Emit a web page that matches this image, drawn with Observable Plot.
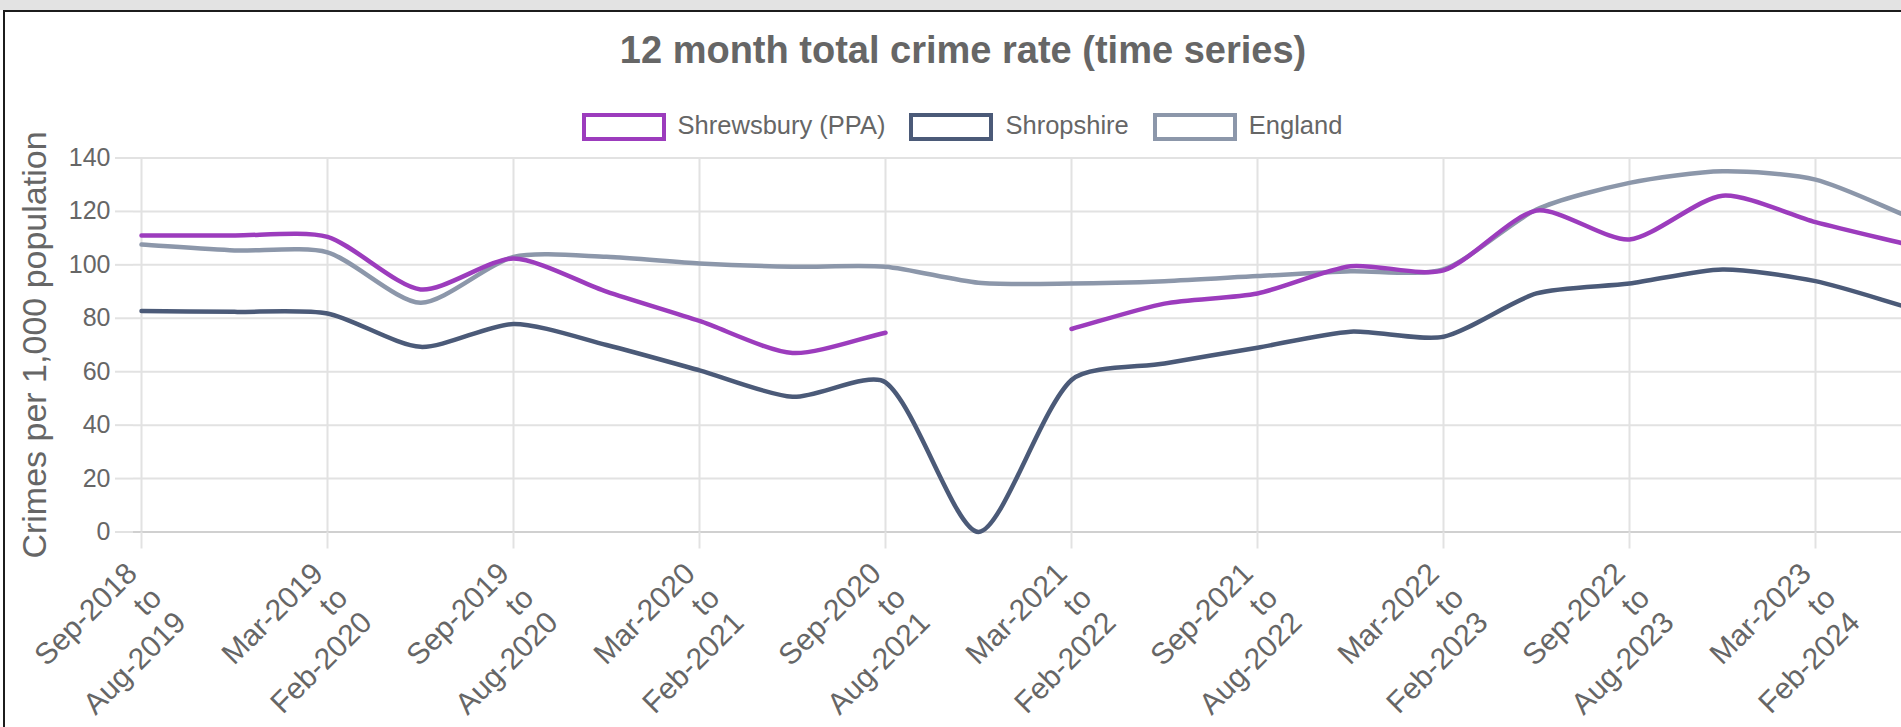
<!DOCTYPE html>
<html>
<head>
<meta charset="utf-8">
<script src="https://cdn.jsdelivr.net/npm/d3@7"></script>
<script src="https://cdn.jsdelivr.net/npm/@observablehq/plot@0.6"></script>
<style>
html,body{margin:0;padding:0;width:1901px;height:727px;overflow:hidden;background:#fff;font-family:"Liberation Sans",Arial,sans-serif;}
#strip{position:absolute;left:0;top:0;width:1901px;height:10px;background:#e3e3e3;}
#frame{position:absolute;left:3px;top:10px;width:1940px;height:760px;border-left:2px solid #1c1c1c;border-top:2px solid #1c1c1c;}
#title{position:absolute;left:0;top:31px;width:1926px;text-align:center;font-weight:bold;font-size:38px;line-height:38px;color:#666;white-space:nowrap;}
#legend{position:absolute;left:0;top:113px;width:1924px;height:28px;display:flex;justify-content:center;align-items:center;}
.item{display:flex;align-items:center;margin:0 12px;}
.box{width:84px;height:28px;box-sizing:border-box;border:4px solid;background:#fff;margin-right:12px;}
.lab{font-size:25.5px;color:#666;line-height:28px;position:relative;top:-2px;white-space:nowrap;}
#chart{position:absolute;left:6px;top:140px;width:1914px;}
#chart svg{max-width:none !important;}
</style>
</head>
<body>
<div id="strip"></div>
<div id="frame"></div>
<div id="title"></div>
<div id="legend"></div>
<div id="chart"></div>
<script>
const chartTitle = "12 month total crime rate (time series)";
const yTitle = "Crimes per 1,000 population";
const categories = [
  "Sep-2018 to Aug-2019", "Dec-2018 to Nov-2019", "Mar-2019 to Feb-2020", "Jun-2019 to May-2020",
  "Sep-2019 to Aug-2020", "Dec-2019 to Nov-2020", "Mar-2020 to Feb-2021", "Jun-2020 to May-2021",
  "Sep-2020 to Aug-2021", "Dec-2020 to Nov-2021", "Mar-2021 to Feb-2022", "Jun-2021 to May-2022",
  "Sep-2021 to Aug-2022", "Dec-2021 to Nov-2022", "Mar-2022 to Feb-2023", "Jun-2022 to May-2023",
  "Sep-2022 to Aug-2023", "Dec-2022 to Nov-2023", "Mar-2023 to Feb-2024", "Jun-2023 to May-2024"
];
const tickLabels = [
  "Sep-2018 to Aug-2019", "Mar-2019 to Feb-2020", "Sep-2019 to Aug-2020", "Mar-2020 to Feb-2021",
  "Sep-2020 to Aug-2021", "Mar-2021 to Feb-2022", "Sep-2021 to Aug-2022", "Mar-2022 to Feb-2023",
  "Sep-2022 to Aug-2023", "Mar-2023 to Feb-2024"
];
const seriesNames = ["Shrewsbury (PPA)", "Shropshire", "England"];
const seriesColors = ["#9c3cbd", "#4b5a78", "#8c97aa"];
const shrewsbury = [111, 111, 110.5, 90.8, 102.4, 90, 79, 67, 74.6, null, 76, 85.5, 89.3, 99.5, 97.9, 120.3, 109.5, 125.9, 116, 107.5];
const shropshire = [82.7, 82.4, 81.8, 69.3, 77.9, 70, 60.5, 50.6, 56, 0, 56.9, 63.1, 69, 75, 73.1, 89.3, 93, 98.3, 93.9, 84];
const england = [107.6, 105.4, 104.7, 85.8, 103, 103, 100.5, 99.3, 99.3, 93.3, 93, 93.9, 95.8, 97.6, 98.3, 120.7, 130.7, 135, 131.9, 118];
const yTicks = [0, 20, 40, 60, 80, 100, 120, 140];

document.getElementById("title").textContent = chartTitle;
const legend = document.getElementById("legend");
seriesNames.forEach((name, i) => {
  const item = document.createElement("div");
  item.className = "item";
  const box = document.createElement("div");
  box.className = "box";
  box.style.borderColor = seriesColors[i];
  const lab = document.createElement("span");
  lab.className = "lab";
  lab.textContent = name;
  item.appendChild(box);
  item.appendChild(lab);
  legend.appendChild(item);
});

// Layout of the plot frame
const W = 1914, H = 587, mL = 127, mR = 4, mT = 17.5, mB = 195.5;

// Chart.js-style bezier spline (tension 0.25, control points capped to the chart area)
function chartjsCurve(context) {
  let pts = [];
  const top = mT, bottom = H - mB, t = 0.25;
  const cap = v => Math.max(top, Math.min(bottom, v));
  return {
    areaStart() {}, areaEnd() {},
    lineStart() { pts = []; },
    point(x, y) { pts.push([+x, +y]); },
    lineEnd() {
      const n = pts.length;
      if (!n) return;
      context.moveTo(pts[0][0], pts[0][1]);
      if (n === 1) { context.lineTo(pts[0][0], pts[0][1]); return; }
      const cps = pts.map((p, i) => {
        const prev = pts[i - 1] || p, next = pts[i + 1] || p;
        const d01 = Math.hypot(p[0] - prev[0], p[1] - prev[1]);
        const d12 = Math.hypot(next[0] - p[0], next[1] - p[1]);
        const s = d01 + d12;
        const fa = s ? t * d01 / s : 0, fb = s ? t * d12 / s : 0;
        return {
          prev: [p[0] - fa * (next[0] - prev[0]), cap(p[1] - fa * (next[1] - prev[1]))],
          next: [p[0] + fb * (next[0] - prev[0]), cap(p[1] + fb * (next[1] - prev[1]))]
        };
      });
      for (let i = 1; i < n; i++) {
        context.bezierCurveTo(cps[i - 1].next[0], cps[i - 1].next[1], cps[i].prev[0], cps[i].prev[1], pts[i][0], pts[i][1]);
      }
    }
  };
}

const rows = vals => categories.map((c, i) => ({period: c, value: vals[i]}));
const lineOpts = color => ({x: "period", y: "value", stroke: color, strokeWidth: 4.5, curve: chartjsCurve, strokeLinejoin: "round", strokeLinecap: "round"});

const plot = Plot.plot({
  width: W,
  height: H,
  marginLeft: mL,
  marginRight: mR,
  marginTop: mT,
  marginBottom: mB,
  style: {fontFamily: "'Liberation Sans', Arial, sans-serif", color: "#666", background: "transparent", overflow: "visible"},
  x: {type: "point", domain: categories, padding: 0},
  y: {domain: [0, 140]},
  marks: [
    Plot.gridY(yTicks, {stroke: "#e2e2e2", strokeOpacity: 1, strokeWidth: 2}),
    Plot.gridX(tickLabels, {stroke: "#e2e2e2", strokeOpacity: 1, strokeWidth: 2}),
    Plot.ruleY([0], {stroke: "#d0d0d0", strokeWidth: 2}),
    Plot.axisY(yTicks, {tickSize: 18, tickPadding: 5, stroke: "#e2e2e2", strokeWidth: 2, fill: "#666", fontSize: 25, label: null}),
    Plot.axisX(tickLabels, {tickSize: 17, tickPadding: 0, stroke: "#e2e2e2", strokeWidth: 2, label: null, text: null}),
    Plot.axisX(tickLabels, {
      tickSize: 17, tickPadding: 9, stroke: "none", fill: "#666", fontSize: 30, dx: -20,
      tickRotate: -45, textAnchor: "end", lineAnchor: "top", lineHeight: 1.15,
      tickFormat: d => d.replace(" to ", "\nto\n"), label: null
    }),
    Plot.text([yTitle], {frameAnchor: "left", textAnchor: "middle", dx: -98, rotate: -90, fontSize: 34, fill: "#666"}),
    Plot.line(rows(england), lineOpts(seriesColors[2])),
    Plot.line(rows(shropshire), lineOpts(seriesColors[1])),
    Plot.line(rows(shrewsbury), lineOpts(seriesColors[0]))
  ]
});
document.getElementById("chart").appendChild(plot);
</script>
</body>
</html>
